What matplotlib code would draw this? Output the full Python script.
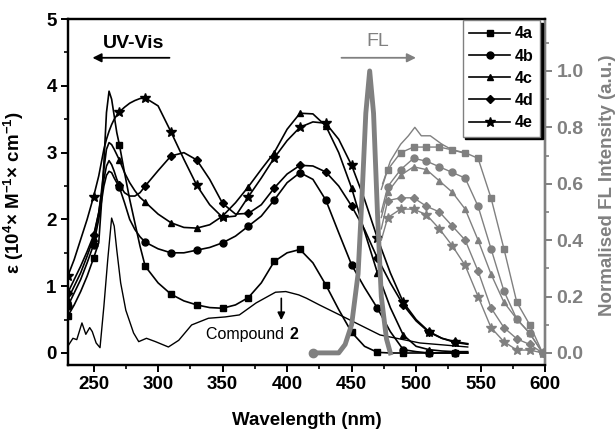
import numpy as np
import matplotlib
matplotlib.use("Agg")
import matplotlib.pyplot as plt

plt.rcParams['font.family'] = ['Liberation Sans', 'DejaVu Sans']
plt.rcParams['mathtext.fontset'] = 'custom'
plt.rcParams['mathtext.rm'] = 'Liberation Sans:bold'
plt.rcParams['mathtext.bf'] = 'Liberation Sans:bold'

# UV-Vis absorption (left axis, 10^4 M^-1 cm^-1)
uv_wl = [230, 235, 240, 245, 250, 254, 256, 258, 260, 262, 264, 266, 268, 270, 274, 278,
         282, 286, 290, 300, 310, 320, 330, 340, 350, 360, 370, 380, 390, 400, 410, 420,
         430, 440, 450, 460, 470, 480, 490, 500, 510, 520, 530, 540]
uv_4a = [0.55, 0.72, 0.92, 1.15, 1.42, 1.65, 2.2, 2.85, 3.6, 3.92, 3.8, 3.55, 3.3, 3.12, 2.7, 2.3,
         1.95, 1.6, 1.30, 1.05, 0.88, 0.78, 0.72, 0.68, 0.67, 0.72, 0.83, 1.05, 1.37, 1.50, 1.55, 1.35,
         1.02, 0.65, 0.31, 0.10, 0.01, 0.0, 0.0, 0.0, 0.0, 0.0, 0.0, 0.0]
uv_4b = [0.70, 0.90, 1.10, 1.35, 1.62, 2.0, 2.25, 2.5, 2.66, 2.72, 2.70, 2.62, 2.55, 2.48, 2.25, 2.0,
         1.85, 1.74, 1.66, 1.56, 1.50, 1.50, 1.54, 1.58, 1.65, 1.75, 1.90, 2.05, 2.29, 2.55, 2.70, 2.60,
         2.29, 1.80, 1.32, 0.98, 0.67, 0.32, 0.05, 0.02, 0.0, 0.0, 0.0, 0.0]
uv_4c = [0.80, 1.00, 1.20, 1.45, 1.72, 2.1, 2.4, 2.75, 3.05, 3.15, 3.12, 3.05, 2.97, 2.89, 2.7, 2.55,
         2.43, 2.33, 2.26, 2.08, 1.95, 1.88, 1.87, 1.92, 2.05, 2.25, 2.49, 2.75, 3.0, 3.35, 3.59, 3.58,
         3.40, 3.0, 2.47, 1.82, 1.20, 0.68, 0.27, 0.10, 0.05, 0.03, 0.02, 0.02]
uv_4d = [0.90, 1.10, 1.30, 1.52, 1.76, 2.1, 2.35, 2.6, 2.8, 2.88, 2.82, 2.72, 2.6, 2.52, 2.4, 2.35,
         2.35, 2.4, 2.50, 2.73, 2.95, 3.0, 2.89, 2.6, 2.24, 2.08, 2.09, 2.22, 2.47, 2.68, 2.81, 2.80,
         2.71, 2.5, 2.2, 1.85, 1.42, 1.05, 0.72, 0.48, 0.31, 0.22, 0.16, 0.13]
uv_4e = [1.15, 1.40, 1.70, 2.00, 2.34, 2.65, 2.85, 3.05, 3.2, 3.32, 3.42, 3.5, 3.56, 3.61, 3.68, 3.74,
         3.78, 3.81, 3.82, 3.70, 3.31, 2.9, 2.51, 2.22, 2.03, 2.05, 2.34, 2.62, 2.92, 3.18, 3.38, 3.46,
         3.44, 3.2, 2.81, 2.3, 1.72, 1.2, 0.76, 0.50, 0.32, 0.22, 0.17, 0.14]

cmp2_wl = [230, 234, 237, 241, 244, 247, 249, 252, 255, 258, 261, 264, 266, 268, 271, 275, 281, 285,
           291, 298, 308, 316, 326, 339, 352, 363, 376, 391, 399, 409, 415, 425, 446, 472, 503, 540]
cmp2_eps = [0.10, 0.22, 0.20, 0.45, 0.28, 0.38, 0.32, 0.15, 0.08, 0.70, 1.40, 2.02, 1.90, 1.54, 1.05,
            0.64, 0.30, 0.17, 0.22, 0.17, 0.09, 0.19, 0.42, 0.52, 0.54, 0.57, 0.75, 0.91, 0.92, 0.87,
            0.82, 0.72, 0.52, 0.27, 0.15, 0.09]

# fluorescence (right axis, normalised)
fl_wl = [473, 478, 488, 498, 508, 518, 528, 538, 548, 558, 568, 578, 588, 598]
fl_4a = [0.58, 0.65, 0.71, 0.73, 0.73, 0.73, 0.72, 0.71, 0.69, 0.55, 0.37, 0.18, 0.10, 0.0]
fl_4b = [0.50, 0.59, 0.65, 0.69, 0.68, 0.66, 0.64, 0.62, 0.52, 0.37, 0.22, 0.12, 0.07, 0.0]
fl_4c = [0.48, 0.57, 0.63, 0.66, 0.65, 0.61, 0.57, 0.51, 0.40, 0.28, 0.18, 0.12, 0.07, 0.0]
fl_4d = [0.44, 0.54, 0.55, 0.55, 0.52, 0.50, 0.45, 0.40, 0.29, 0.16, 0.09, 0.05, 0.03, 0.0]
fl_4e = [0.40, 0.48, 0.51, 0.51, 0.49, 0.44, 0.38, 0.31, 0.20, 0.09, 0.04, 0.01, 0.01, 0.0]
fl_top_wl = [474, 480, 488, 494, 499, 504, 511, 520, 528, 536]
fl_top = [0.60, 0.68, 0.74, 0.77, 0.80, 0.77, 0.77, 0.74, 0.72, 0.71]

peak_wl = [420, 440, 445, 450, 455, 458, 461, 464, 467, 470, 473, 477, 480]
peak_fl = [0.0, 0.0, 0.03, 0.10, 0.28, 0.55, 0.85, 1.0, 0.85, 0.50, 0.20, 0.05, 0.0]

names = ['4a', '4b', '4c', '4d', '4e']
markers = ['s', 'o', '^', 'D', '*']
msizes = [4.5, 5, 5, 4.3, 7]
uv_all = [uv_4a, uv_4b, uv_4c, uv_4d, uv_4e]
fl_all = [fl_4a, fl_4b, fl_4c, fl_4d, fl_4e]
gray = '#808080'

fig = plt.figure(figsize=(6.16, 4.33), dpi=100)
fig.subplots_adjust(left=0.110, right=0.885, bottom=0.157, top=0.956)
ax = fig.add_subplot(111)
ax2 = ax.twinx()

uv_marks = [i for i, w in enumerate(uv_wl) if w % 20 == 10]
fl_marks = [i for i, w in enumerate(fl_wl) if w != 473]

handles = []
for n, m, ms, ys in zip(names, markers, msizes, uv_all):
    h, = ax.plot(uv_wl, ys, color='black', lw=1.2, marker=m, ms=ms,
                 markevery=uv_marks, label=n)
    handles.append(h)
ax.plot(cmp2_wl, cmp2_eps, color='black', lw=1.0)

for m, ms, ys in zip(markers, msizes, fl_all):
    ax2.plot(fl_wl, ys, color=gray, lw=1.0, marker=m, ms=ms, markevery=fl_marks)
ax2.plot(fl_top_wl, fl_top, color=gray, lw=1.0)
ax2.plot(peak_wl, peak_fl, color=gray, lw=3.5, solid_joinstyle='round')
ax2.plot([420], [0.0], 'o', color=gray, ms=6)

ax.set_xlim(230, 600)
ax.set_ylim(-0.18, 5)
ax2.set_ylim(-0.043, 1.184)

ax.set_xticks([250, 300, 350, 400, 450, 500, 550, 600])
ax.set_xticks(np.arange(275, 600, 50), minor=True)
ax.set_yticks([0, 1, 2, 3, 4, 5])
ax.set_yticks([0.5, 1.5, 2.5, 3.5, 4.5], minor=True)
ax2.set_yticks([0.0, 0.2, 0.4, 0.6, 0.8, 1.0])
ax2.set_yticks([0.1, 0.3, 0.5, 0.7, 0.9, 1.1], minor=True)
ax2.set_yticklabels(['0.0', '0.2', '0.4', '0.6', '0.8', '1.0'])

for a in (ax, ax2):
    for s in a.spines.values():
        s.set_linewidth(1.6)
ax2.spines['right'].set_color(gray)
ax.tick_params(axis='both', which='major', direction='out', length=5, width=1.4,
               labelsize=13.5, pad=3)
ax.tick_params(axis='both', which='minor', direction='out', length=3, width=1.2)
ax.tick_params(axis='x', top=False)
ax2.tick_params(axis='y', which='major', colors=gray, direction='out', length=5, width=1.4,
                labelsize=14, pad=3)
ax2.tick_params(axis='y', which='minor', colors=gray, direction='out', length=3, width=1.2)
for lab in ax.get_xticklabels() + ax.get_yticklabels() + ax2.get_yticklabels():
    lab.set_fontweight('bold')

ax.set_xlabel('Wavelength (nm)', fontsize=13.5, fontweight='bold')
ax.xaxis.set_label_coords(0.5, -0.135)
ax.set_ylabel(r'ε (10$^{4}$× M$^{-1}$× cm$^{-1}$)', fontsize=13.5, fontweight='bold')
ax.yaxis.set_label_coords(-0.088, 0.5)
ax2.set_ylabel('Normalised FL Intensity (a.u.)', fontsize=13.5, fontweight='bold', color=gray)
ax2.yaxis.set_label_coords(1.112, 0.52)

# labels and arrows
ax.text(281, 4.64, 'UV-Vis', fontsize=14, fontweight='bold', ha='center', va='center')
ax.annotate('', xy=(247, 4.42), xytext=(311, 4.42),
            arrowprops=dict(arrowstyle='-|>', color='black', lw=1.3, mutation_scale=13))
ax.text(470, 4.66, 'FL', fontsize=14, color=gray, ha='center', va='center')
ax.annotate('', xy=(502, 4.42), xytext=(440, 4.42),
            arrowprops=dict(arrowstyle='-|>', color=gray, lw=1.3, mutation_scale=13))
ax.text(401, 0.27, 'Compound ', fontsize=11.5, ha='right', va='center')
ax.text(402, 0.27, '2', fontsize=11.5, fontweight='bold', ha='left', va='center')
ax.annotate('', xy=(395.5, 0.45), xytext=(395.5, 0.86),
            arrowprops=dict(arrowstyle='-|>', color='black', lw=1.2, mutation_scale=11))

leg = ax2.legend(handles=handles, loc='upper right', bbox_to_anchor=(0.990, 0.997),
                 borderaxespad=0, fancybox=False, framealpha=1, edgecolor=gray,
                 shadow={'color': 'black', 'alpha': 1}, handlelength=2.6,
                 labelspacing=0.45, handletextpad=0.3, borderpad=0.4,
                 prop={'size': 11.5, 'weight': 'bold'})
leg.get_frame().set_linewidth(1.0)

fig.savefig('out.png', dpi=100)
